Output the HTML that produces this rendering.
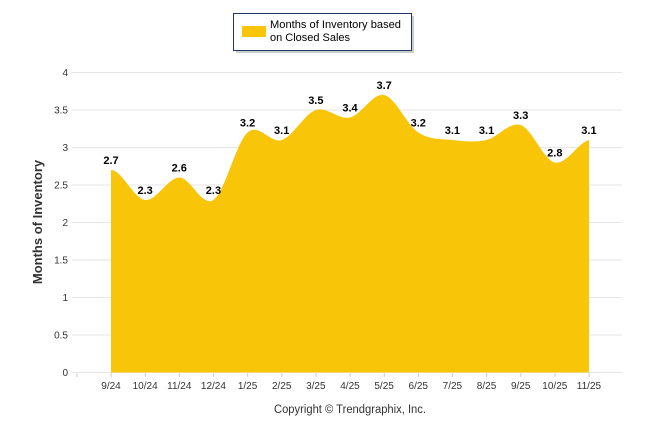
<!DOCTYPE html>
<html><head><meta charset="utf-8"><style>
body{margin:0;background:#fff;width:646px;height:434px;overflow:hidden;font-family:"Liberation Sans",Arial,sans-serif}
</style></head><body>
<svg id="s" width="646" height="434" xmlns="http://www.w3.org/2000/svg" font-family="Liberation Sans, Arial, sans-serif">
<rect x="236" y="16" width="178" height="37" fill="#999" opacity="0.5"/>
<rect x="233.5" y="13.5" width="178" height="37" fill="#fff" stroke="#1f3864" stroke-width="1"/>
<rect x="242" y="26" width="24" height="11" fill="#f8c508"/>
<text x="270" y="28" font-size="11" fill="#000" textLength="131" lengthAdjust="spacingAndGlyphs">Months of Inventory based</text>
<text x="270" y="41" font-size="11" fill="#000" textLength="80" lengthAdjust="spacingAndGlyphs">on Closed Sales</text>
<g id="grid" stroke="#e6e6e6" stroke-width="1"></g>
<g id="yl" font-size="10" fill="#333" text-anchor="end"></g>
<path id="area" fill="#f8c508"/>
<g id="xl" font-size="10" fill="#333" text-anchor="middle"></g>
<g id="vl" font-size="11" font-weight="bold" fill="#000" text-anchor="middle"></g>
<text transform="translate(42,222) rotate(-90)" font-size="13" font-weight="bold" fill="#333" text-anchor="middle">Months of Inventory</text>
<text x="350" y="413" font-size="11.5" fill="#333" text-anchor="middle" textLength="152" lengthAdjust="spacingAndGlyphs">Copyright © Trendgraphix, Inc.</text>
</svg>
<script>
var ns="http://www.w3.org/2000/svg";
function el(p,t,a,txt){var e=document.createElementNS(ns,t);for(var k in a)e.setAttribute(k,a[k]);if(txt!==undefined)e.textContent=txt;document.getElementById(p).appendChild(e);return e;}
var Y=function(v){return 372.5-75*v;};
for(var i=0;i<=8;i++){var v=i/2,y=Y(v);el("grid","line",{x1:72,x2:622,y1:y,y2:y});el("yl","text",{x:68,y:y+3.5},String(v));}
var labs=["9/24","10/24","11/24","12/24","1/25","2/25","3/25","4/25","5/25","6/25","7/25","8/25","9/25","10/25","11/25"];
var vals=[2.7,2.3,2.6,2.3,3.2,3.1,3.5,3.4,3.7,3.2,3.1,3.1,3.3,2.8,3.1];
var X=function(i){return 111+34.14*i;};
for(var i=0;i<=15;i++){var x=77+34.14*i;el("grid","line",{x1:x,x2:x,y1:373,y2:377,stroke:"#ccc"});}
var pts=vals.map(function(v,i){return [X(i),Y(v)];});
var d="M"+pts[0][0]+","+Y(0)+" L"+pts[0][0]+","+pts[0][1];
var t=0.25;
for(var i=0;i<pts.length-1;i++){
 var p0=pts[Math.max(i-1,0)],p1=pts[i],p2=pts[i+1],p3=pts[Math.min(i+2,pts.length-1)];
 var c1=[p1[0]+(p2[0]-p0[0])*t/1.5,p1[1]+(p2[1]-p0[1])*t/1.5];
 var c2=[p2[0]-(p3[0]-p1[0])*t/1.5,p2[1]-(p3[1]-p1[1])*t/1.5];
 if(i==0)c1=[p1[0]+11,p1[1]];
 if(i==pts.length-2)c2=[p2[0]-11,p2[1]+3];
 d+=" C"+c1+" "+c2+" "+p2;
}
d+=" L"+pts[pts.length-1][0]+","+Y(0)+" Z";
document.getElementById("area").setAttribute("d",d);
labs.forEach(function(l,i){el("xl","text",{x:X(i),y:389},l);el("vl","text",{x:X(i),y:Y(vals[i])-6},vals[i].toFixed(1));});
</script>
</body></html>
